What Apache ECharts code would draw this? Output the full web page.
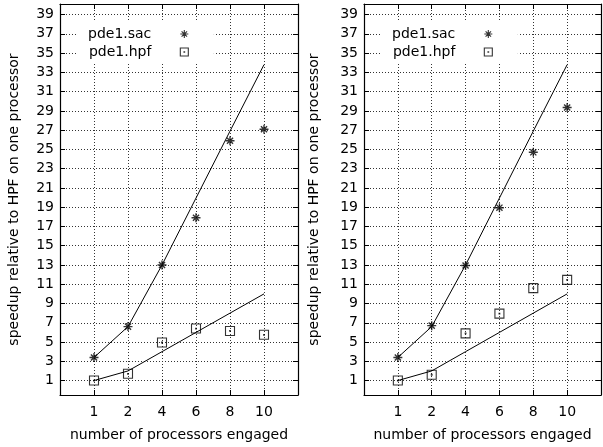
<!DOCTYPE html>
<html>
<head>
<meta charset="utf-8">
<script src="https://cdn.jsdelivr.net/npm/echarts@6/dist/echarts.min.js"></script>
<style>
html,body{margin:0;padding:0;background:#fff;}
#chart{width:603px;height:447px;}
</style>
</head>
<body>
<div id="chart"></div>
<script>
// ---- data ----
var categories = ['1', '2', '4', '6', '8', '10'];
var yTickValues = [1, 3, 5, 7, 9, 11, 13, 15, 17, 19, 21, 23, 25, 27, 29, 31, 33, 35, 37, 39];

var leftSac = [3.4, 6.6, 13.0, 17.9, 25.9, 27.1];
var leftHpf = [1.0, 1.7, 4.95, 6.4, 6.15, 5.75];
var rightSac = [3.4, 6.7, 12.95, 18.95, 24.7, 29.35];
var rightHpf = [1.0, 1.6, 5.9, 7.95, 10.6, 11.45];
var refSac = [3.4, 6.6, 13.0, 19.95, 26.9, 33.8];
var refHpf = [1, 2, 4, 6, 8, 10];

var seriesNames = ['pde1.sac', 'pde1.hpf'];
var yAxisTitle = 'speedup relative to HPF on one processor';
var xAxisTitle = 'number of processors engaged';

// ---- styles ----
var FONT = 'DejaVu Sans';
var starPath = 'path://M5 0 L5 10 M0 5 L10 5 M1.6 1.6 L8.4 8.4 M1.6 8.4 L8.4 1.6';
var boxPath = 'path://M0 0 L10 0 L10 10 L0 10 Z M4.6 4.6 L5.4 4.6 L5.4 5.4 L4.6 5.4 Z';
var xPositions = categories.map(function (c, i) { return i; });

function pairs(arr) { return arr.map(function (v, i) { return [i, v]; }); }

var grids = [
  { left: 60, top: 4, width: 238, height: 391 },
  { left: 364, top: 4, width: 237, height: 391 }
];
var yNameGaps = [39, 43];
var legendLefts = [76, 380];
var panelData = [[leftSac, leftHpf], [rightSac, rightHpf]];

var xAxes = [], yAxes = [], series = [], legends = [];
var lineStyleAxis = { color: '#000', width: 1.2 };
var tickStyle = { color: '#000', width: 1 };

grids.forEach(function (g, gi) {
  xAxes.push({
    type: 'value', gridIndex: gi, min: -1, max: 6, position: 'bottom',
    axisLine: { show: true, onZero: false, lineStyle: lineStyleAxis },
    axisTick: { show: true, inside: true, length: 5, customValues: xPositions, lineStyle: tickStyle },
    axisLabel: {
      customValues: xPositions, margin: 10, color: '#000', fontFamily: FONT, fontSize: 14,
      formatter: function (v) { return categories[v] !== undefined ? categories[v] : ''; }
    },
    splitLine: { show: true, lineStyle: { color: '#333', width: 1, type: [1, 2] } },
    name: xAxisTitle, nameLocation: 'middle', nameGap: 33,
    nameTextStyle: { color: '#000', fontFamily: FONT, fontSize: 14 }
  });
  xAxes.push({
    type: 'value', gridIndex: gi, min: -1, max: 6, position: 'top',
    axisLine: { show: true, onZero: false, lineStyle: lineStyleAxis },
    axisTick: { show: true, inside: true, length: 5, customValues: xPositions, lineStyle: tickStyle },
    axisLabel: { show: false },
    splitLine: { show: false }
  });
  yAxes.push({
    type: 'value', gridIndex: gi, min: -0.5, max: 40.1, position: 'left',
    axisLine: { show: true, onZero: false, lineStyle: lineStyleAxis },
    axisTick: { show: true, inside: true, length: 5, customValues: yTickValues, lineStyle: tickStyle },
    axisLabel: { customValues: yTickValues, margin: 6, color: '#000', fontFamily: FONT, fontSize: 14 },
    splitLine: { show: true, lineStyle: { color: '#333', width: 1, type: [1, 2] } },
    name: yAxisTitle, nameLocation: 'middle', nameGap: yNameGaps[gi],
    nameTextStyle: { color: '#000', fontFamily: FONT, fontSize: 14 }
  });
  yAxes.push({
    type: 'value', gridIndex: gi, min: -0.5, max: 40.1, position: 'right',
    axisLine: { show: true, onZero: false, lineStyle: lineStyleAxis },
    axisTick: { show: true, inside: true, length: 5, customValues: yTickValues, lineStyle: tickStyle },
    axisLabel: { show: false },
    splitLine: { show: false }
  });

  var xi = gi * 2, yi = gi * 2;
  // reference lines
  [refSac, refHpf].forEach(function (arr) {
    series.push({
      type: 'line', xAxisIndex: xi, yAxisIndex: yi, data: pairs(arr),
      showSymbol: false, symbol: 'none', silent: true, z: 2,
      lineStyle: { color: '#000', width: 1 }
    });
  });
  // measured points
  series.push({
    name: seriesNames[0], type: 'scatter', xAxisIndex: xi, yAxisIndex: yi,
    data: pairs(panelData[gi][0]), symbol: starPath, symbolSize: 9, z: 3,
    itemStyle: { color: 'transparent', borderColor: '#000', borderWidth: 1.4 }
  });
  series.push({
    name: seriesNames[1], type: 'scatter', xAxisIndex: xi, yAxisIndex: yi,
    data: pairs(panelData[gi][1]), symbol: boxPath, symbolSize: 9, z: 3,
    itemStyle: { color: 'transparent', borderColor: '#000', borderWidth: 1.1 }
  });

  legends.push({
    data: seriesNames, orient: 'vertical', align: 'right',
    left: legendLefts[gi], top: 22,
    padding: [5, 25, 5, 12], itemGap: 4, itemWidth: 8, itemHeight: 8,
    backgroundColor: '#fff', selectedMode: false, z: 10,
    itemStyle: { color: 'transparent', borderColor: '#000', borderWidth: 1.1 },
    textStyle: { color: '#000', fontFamily: FONT, fontSize: 14, lineHeight: 14, padding: [0, 24, 0, 0] }
  });
});

var chart = echarts.init(document.getElementById('chart'), null, { renderer: 'canvas' });
chart.setOption({
  animation: false,
  backgroundColor: '#fff',
  grid: grids,
  xAxis: xAxes,
  yAxis: yAxes,
  legend: legends,
  series: series
});
</script>
</body>
</html>
